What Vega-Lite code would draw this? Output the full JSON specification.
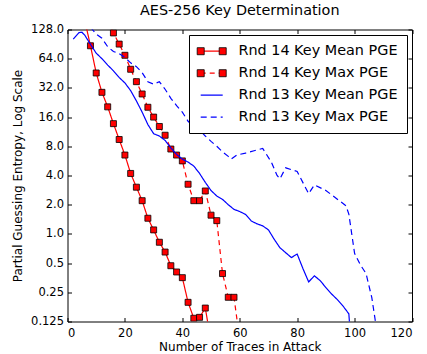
{
  "$schema": "https://vega.github.io/schema/vega-lite/v6.json",
  "autosize": {"type": "none"},
  "padding": {"left": 67.5, "top": 29.5, "right": 15, "bottom": 32.5},
  "width": 344.5,
  "height": 292,
  "title": {"text": "AES-256 Key Determination", "fontSize": 14.4, "fontWeight": "normal", "font": "DejaVu Sans", "anchor": "middle", "offset": 5, "color": "black"},
  "data": {"values": [
    {"series": "Rnd 14 Key Mean PGE", "x": 6, "v": 160},
    {"series": "Rnd 14 Key Mean PGE", "x": 8, "v": 87},
    {"series": "Rnd 14 Key Mean PGE", "x": 10, "v": 45.6},
    {"series": "Rnd 14 Key Mean PGE", "x": 12, "v": 28.8},
    {"series": "Rnd 14 Key Mean PGE", "x": 14, "v": 20.4},
    {"series": "Rnd 14 Key Mean PGE", "x": 16, "v": 13.7},
    {"series": "Rnd 14 Key Mean PGE", "x": 18, "v": 9.4},
    {"series": "Rnd 14 Key Mean PGE", "x": 20, "v": 6.5},
    {"series": "Rnd 14 Key Mean PGE", "x": 22, "v": 4.2},
    {"series": "Rnd 14 Key Mean PGE", "x": 24, "v": 3.03},
    {"series": "Rnd 14 Key Mean PGE", "x": 26, "v": 2.2},
    {"series": "Rnd 14 Key Mean PGE", "x": 28, "v": 1.45},
    {"series": "Rnd 14 Key Mean PGE", "x": 30, "v": 1.1},
    {"series": "Rnd 14 Key Mean PGE", "x": 32, "v": 0.82},
    {"series": "Rnd 14 Key Mean PGE", "x": 34, "v": 0.65},
    {"series": "Rnd 14 Key Mean PGE", "x": 36, "v": 0.47},
    {"series": "Rnd 14 Key Mean PGE", "x": 38, "v": 0.405},
    {"series": "Rnd 14 Key Mean PGE", "x": 40, "v": 0.354},
    {"series": "Rnd 14 Key Mean PGE", "x": 42, "v": 0.197},
    {"series": "Rnd 14 Key Mean PGE", "x": 44, "v": 0.135},
    {"series": "Rnd 14 Key Mean PGE", "x": 46, "v": 0.138},
    {"series": "Rnd 14 Key Mean PGE", "x": 48, "v": 0.172},
    {"series": "Rnd 14 Key Mean PGE", "x": 50, "v": 0.077},
    {"series": "Rnd 14 Key Max PGE", "x": 14, "v": 155},
    {"series": "Rnd 14 Key Max PGE", "x": 16, "v": 118},
    {"series": "Rnd 14 Key Max PGE", "x": 18, "v": 90.5},
    {"series": "Rnd 14 Key Max PGE", "x": 20, "v": 69.4},
    {"series": "Rnd 14 Key Max PGE", "x": 22, "v": 49.8},
    {"series": "Rnd 14 Key Max PGE", "x": 24, "v": 37.1},
    {"series": "Rnd 14 Key Max PGE", "x": 26, "v": 27.7},
    {"series": "Rnd 14 Key Max PGE", "x": 28, "v": 20.2},
    {"series": "Rnd 14 Key Max PGE", "x": 30, "v": 16},
    {"series": "Rnd 14 Key Max PGE", "x": 32, "v": 12.8},
    {"series": "Rnd 14 Key Max PGE", "x": 34, "v": 10.4},
    {"series": "Rnd 14 Key Max PGE", "x": 36, "v": 7.5},
    {"series": "Rnd 14 Key Max PGE", "x": 38, "v": 6.5},
    {"series": "Rnd 14 Key Max PGE", "x": 40, "v": 5.66},
    {"series": "Rnd 14 Key Max PGE", "x": 42, "v": 3.25},
    {"series": "Rnd 14 Key Max PGE", "x": 44, "v": 2.2},
    {"series": "Rnd 14 Key Max PGE", "x": 46, "v": 2.2},
    {"series": "Rnd 14 Key Max PGE", "x": 48, "v": 2.77},
    {"series": "Rnd 14 Key Max PGE", "x": 50, "v": 1.56},
    {"series": "Rnd 14 Key Max PGE", "x": 52, "v": 1.37},
    {"series": "Rnd 14 Key Max PGE", "x": 54, "v": 0.39},
    {"series": "Rnd 14 Key Max PGE", "x": 56, "v": 0.222},
    {"series": "Rnd 14 Key Max PGE", "x": 58, "v": 0.222},
    {"series": "Rnd 14 Key Max PGE", "x": 60, "v": 0.08},
    {"series": "Rnd 13 Key Mean PGE", "x": 2, "v": 102},
    {"series": "Rnd 13 Key Mean PGE", "x": 4, "v": 119},
    {"series": "Rnd 13 Key Mean PGE", "x": 5, "v": 120},
    {"series": "Rnd 13 Key Mean PGE", "x": 6, "v": 112},
    {"series": "Rnd 13 Key Mean PGE", "x": 8, "v": 90},
    {"series": "Rnd 13 Key Mean PGE", "x": 10, "v": 73},
    {"series": "Rnd 13 Key Mean PGE", "x": 12, "v": 64},
    {"series": "Rnd 13 Key Mean PGE", "x": 14, "v": 55},
    {"series": "Rnd 13 Key Mean PGE", "x": 16, "v": 48},
    {"series": "Rnd 13 Key Mean PGE", "x": 18, "v": 41},
    {"series": "Rnd 13 Key Mean PGE", "x": 20, "v": 36},
    {"series": "Rnd 13 Key Mean PGE", "x": 22, "v": 30},
    {"series": "Rnd 13 Key Mean PGE", "x": 24, "v": 23.5},
    {"series": "Rnd 13 Key Mean PGE", "x": 26, "v": 18},
    {"series": "Rnd 13 Key Mean PGE", "x": 28, "v": 13.4},
    {"series": "Rnd 13 Key Mean PGE", "x": 30, "v": 10.8},
    {"series": "Rnd 13 Key Mean PGE", "x": 32, "v": 10.2},
    {"series": "Rnd 13 Key Mean PGE", "x": 34, "v": 9.2},
    {"series": "Rnd 13 Key Mean PGE", "x": 36, "v": 7.7},
    {"series": "Rnd 13 Key Mean PGE", "x": 38, "v": 6.6},
    {"series": "Rnd 13 Key Mean PGE", "x": 40, "v": 5.9},
    {"series": "Rnd 13 Key Mean PGE", "x": 42, "v": 5.5},
    {"series": "Rnd 13 Key Mean PGE", "x": 44, "v": 5.0},
    {"series": "Rnd 13 Key Mean PGE", "x": 46, "v": 4.2},
    {"series": "Rnd 13 Key Mean PGE", "x": 48, "v": 3.4},
    {"series": "Rnd 13 Key Mean PGE", "x": 50, "v": 2.8},
    {"series": "Rnd 13 Key Mean PGE", "x": 52, "v": 2.46},
    {"series": "Rnd 13 Key Mean PGE", "x": 54, "v": 2.27},
    {"series": "Rnd 13 Key Mean PGE", "x": 56, "v": 2.0},
    {"series": "Rnd 13 Key Mean PGE", "x": 58, "v": 1.79},
    {"series": "Rnd 13 Key Mean PGE", "x": 60, "v": 1.7},
    {"series": "Rnd 13 Key Mean PGE", "x": 62, "v": 1.59},
    {"series": "Rnd 13 Key Mean PGE", "x": 64, "v": 1.36},
    {"series": "Rnd 13 Key Mean PGE", "x": 66, "v": 1.27},
    {"series": "Rnd 13 Key Mean PGE", "x": 68, "v": 1.21},
    {"series": "Rnd 13 Key Mean PGE", "x": 70, "v": 1.1},
    {"series": "Rnd 13 Key Mean PGE", "x": 72, "v": 0.88},
    {"series": "Rnd 13 Key Mean PGE", "x": 74, "v": 0.72},
    {"series": "Rnd 13 Key Mean PGE", "x": 76, "v": 0.64},
    {"series": "Rnd 13 Key Mean PGE", "x": 78, "v": 0.57},
    {"series": "Rnd 13 Key Mean PGE", "x": 80, "v": 0.62},
    {"series": "Rnd 13 Key Mean PGE", "x": 82, "v": 0.44},
    {"series": "Rnd 13 Key Mean PGE", "x": 84, "v": 0.32},
    {"series": "Rnd 13 Key Mean PGE", "x": 86, "v": 0.37},
    {"series": "Rnd 13 Key Mean PGE", "x": 88, "v": 0.33},
    {"series": "Rnd 13 Key Mean PGE", "x": 90, "v": 0.28},
    {"series": "Rnd 13 Key Mean PGE", "x": 92, "v": 0.24},
    {"series": "Rnd 13 Key Mean PGE", "x": 94, "v": 0.21},
    {"series": "Rnd 13 Key Mean PGE", "x": 96, "v": 0.18},
    {"series": "Rnd 13 Key Mean PGE", "x": 98, "v": 0.15},
    {"series": "Rnd 13 Key Mean PGE", "x": 99, "v": 0.06},
    {"series": "Rnd 13 Key Max PGE", "x": 8, "v": 135},
    {"series": "Rnd 13 Key Max PGE", "x": 10, "v": 115},
    {"series": "Rnd 13 Key Max PGE", "x": 12, "v": 104},
    {"series": "Rnd 13 Key Max PGE", "x": 14, "v": 85},
    {"series": "Rnd 13 Key Max PGE", "x": 16, "v": 76},
    {"series": "Rnd 13 Key Max PGE", "x": 18, "v": 72},
    {"series": "Rnd 13 Key Max PGE", "x": 20, "v": 66},
    {"series": "Rnd 13 Key Max PGE", "x": 22, "v": 58},
    {"series": "Rnd 13 Key Max PGE", "x": 24, "v": 53},
    {"series": "Rnd 13 Key Max PGE", "x": 26, "v": 46},
    {"series": "Rnd 13 Key Max PGE", "x": 28, "v": 37},
    {"series": "Rnd 13 Key Max PGE", "x": 30, "v": 35},
    {"series": "Rnd 13 Key Max PGE", "x": 32, "v": 37},
    {"series": "Rnd 13 Key Max PGE", "x": 34, "v": 31},
    {"series": "Rnd 13 Key Max PGE", "x": 36, "v": 25},
    {"series": "Rnd 13 Key Max PGE", "x": 38, "v": 21},
    {"series": "Rnd 13 Key Max PGE", "x": 40, "v": 18},
    {"series": "Rnd 13 Key Max PGE", "x": 42, "v": 14.5},
    {"series": "Rnd 13 Key Max PGE", "x": 44, "v": 12.8},
    {"series": "Rnd 13 Key Max PGE", "x": 46, "v": 11.8},
    {"series": "Rnd 13 Key Max PGE", "x": 48, "v": 10.2},
    {"series": "Rnd 13 Key Max PGE", "x": 50, "v": 9.0},
    {"series": "Rnd 13 Key Max PGE", "x": 52, "v": 8.0},
    {"series": "Rnd 13 Key Max PGE", "x": 54, "v": 7.0},
    {"series": "Rnd 13 Key Max PGE", "x": 56, "v": 6.3},
    {"series": "Rnd 13 Key Max PGE", "x": 57, "v": 5.9},
    {"series": "Rnd 13 Key Max PGE", "x": 59, "v": 6.5},
    {"series": "Rnd 13 Key Max PGE", "x": 62, "v": 6.8},
    {"series": "Rnd 13 Key Max PGE", "x": 65, "v": 7.2},
    {"series": "Rnd 13 Key Max PGE", "x": 68, "v": 7.6},
    {"series": "Rnd 13 Key Max PGE", "x": 71, "v": 5.5},
    {"series": "Rnd 13 Key Max PGE", "x": 73, "v": 4.0},
    {"series": "Rnd 13 Key Max PGE", "x": 74, "v": 3.7},
    {"series": "Rnd 13 Key Max PGE", "x": 76, "v": 4.8},
    {"series": "Rnd 13 Key Max PGE", "x": 80, "v": 4.4},
    {"series": "Rnd 13 Key Max PGE", "x": 84, "v": 2.6},
    {"series": "Rnd 13 Key Max PGE", "x": 86, "v": 3.2},
    {"series": "Rnd 13 Key Max PGE", "x": 90, "v": 2.8},
    {"series": "Rnd 13 Key Max PGE", "x": 93, "v": 2.4},
    {"series": "Rnd 13 Key Max PGE", "x": 97, "v": 1.95},
    {"series": "Rnd 13 Key Max PGE", "x": 98, "v": 1.6},
    {"series": "Rnd 13 Key Max PGE", "x": 100, "v": 0.63},
    {"series": "Rnd 13 Key Max PGE", "x": 102, "v": 0.48},
    {"series": "Rnd 13 Key Max PGE", "x": 104, "v": 0.39},
    {"series": "Rnd 13 Key Max PGE", "x": 106, "v": 0.22},
    {"series": "Rnd 13 Key Max PGE", "x": 108, "v": 0.09}
  ]},
  "layer": [
    {
      "transform": [{"filter": "indexof(datum.series, 'Rnd 14') === 0"}],
      "mark": {"type": "line", "clip": true, "strokeWidth": 1.2},
      "encoding": {
        "x": {"field": "x", "type": "quantitative", "scale": {"domain": [0, 120], "nice": false},
              "axis": {"orient": "bottom", "values": [0, 20, 40, 60, 80, 100, 120], "title": "Number of Traces in Attack", "labelPadding": 10, "titlePadding": 2}},
        "y": {"field": "v", "type": "quantitative", "scale": {"type": "log", "base": 2, "domain": [0.125, 128], "nice": false},
              "axis": {"orient": "left", "values": [0.125, 0.25, 0.5, 1, 2, 4, 8, 16, 32, 64, 128], "title": "Partial Guessing Entropy, Log Scale",
                       "labelExpr": "datum.value >= 0.5 ? format(datum.value, '.1f') : toString(datum.value)"}},
        "color": {"field": "series", "type": "nominal",
                  "scale": {"domain": ["Rnd 14 Key Mean PGE", "Rnd 14 Key Max PGE", "Rnd 13 Key Mean PGE", "Rnd 13 Key Max PGE"], "range": ["#ff0000", "#ff0000", "#0000ff", "#0000ff"]},
                  "legend": {"orient": "none", "legendX": 121.5, "legendY": 5.5, "title": null, "symbolType": "M-2,0H2", "symbolSize": 121, "symbolStrokeWidth": 1.2, "symbolOffset": 6.5,
                             "labelFontSize": 14.4, "labelOffset": 19.5, "padding": 9, "rowPadding": 7, "strokeColor": "black", "fillColor": "white", "cornerRadius": 0, "labelColor": "black", "labelFont": "DejaVu Sans", "labelLimit": 300}},
        "strokeDash": {"field": "series", "type": "nominal",
                       "scale": {"domain": ["Rnd 14 Key Mean PGE", "Rnd 14 Key Max PGE", "Rnd 13 Key Mean PGE", "Rnd 13 Key Max PGE"], "range": [[1, 0], [5, 4], [1, 0], [6, 4]]},
                       "legend": {"orient": "none", "legendX": 121.5, "legendY": 5.5, "title": null, "symbolType": "M-2,0H2", "symbolSize": 121, "symbolStrokeWidth": 1.2, "symbolOffset": 6.5,
                             "labelFontSize": 14.4, "labelOffset": 19.5, "padding": 9, "rowPadding": 7, "strokeColor": "black", "fillColor": "white", "cornerRadius": 0, "labelColor": "black", "labelFont": "DejaVu Sans", "labelLimit": 300}}
      }
    },
    {
      "transform": [{"filter": "indexof(datum.series, 'Rnd 14') === 0"}],
      "mark": {"type": "square", "clip": true, "size": 36, "stroke": "black", "strokeWidth": 0.8, "opacity": 1},
      "encoding": {
        "x": {"field": "x", "type": "quantitative", "axis": null},
        "y": {"field": "v", "type": "quantitative", "axis": null},
        "fill": {"field": "series", "type": "nominal",
                 "scale": {"domain": ["Rnd 14 Key Mean PGE", "Rnd 14 Key Max PGE"], "range": ["#ff0000", "#ff0000"]},
                 "legend": {"orient": "none", "legendX": 121.5, "legendY": 5.5, "title": null,
                            "symbolType": "M-2.64,-0.64H-1.36V0.64H-2.64ZM1.36,-0.64H2.64V0.64H1.36Z", "symbolSize": 121, "symbolOffset": 6.5,
                            "symbolStrokeColor": "black", "symbolStrokeWidth": 0.8,
                            "labelFontSize": 14.4, "labelOffset": 19.5, "padding": 9, "rowPadding": 7, "labelOpacity": 0, "labelFont": "DejaVu Sans", "labelLimit": 300}}
      }
    },
    {
      "transform": [{"filter": "indexof(datum.series, 'Rnd 13') === 0"}],
      "mark": {"type": "line", "clip": true, "strokeWidth": 1.2},
      "encoding": {
        "x": {"field": "x", "type": "quantitative", "axis": {"orient": "top", "values": [0, 20, 40, 60, 80, 100, 120], "labels": false, "title": null}},
        "y": {"field": "v", "type": "quantitative", "axis": {"orient": "right", "values": [0.125, 0.25, 0.5, 1, 2, 4, 8, 16, 32, 64, 128], "labels": false, "title": null}},
        "color": {"field": "series", "type": "nominal"},
        "strokeDash": {"field": "series", "type": "nominal"}
      }
    }
  ],
  "resolve": {"axis": {"x": "independent", "y": "independent"}},
  "config": {
    "font": "DejaVu Sans",
    "view": {"stroke": "black", "strokeWidth": 1},
    "axis": {"grid": false, "domain": false, "tickColor": "black", "tickSize": -4, "labelPadding": 8,
             "labelFontSize": 11.5, "labelColor": "black", "labelFont": "DejaVu Sans",
             "titleFontSize": 12, "titleFontWeight": "normal", "titleColor": "black", "titleFont": "DejaVu Sans"},
    "axisY": {"titlePadding": 6}
  }
}
